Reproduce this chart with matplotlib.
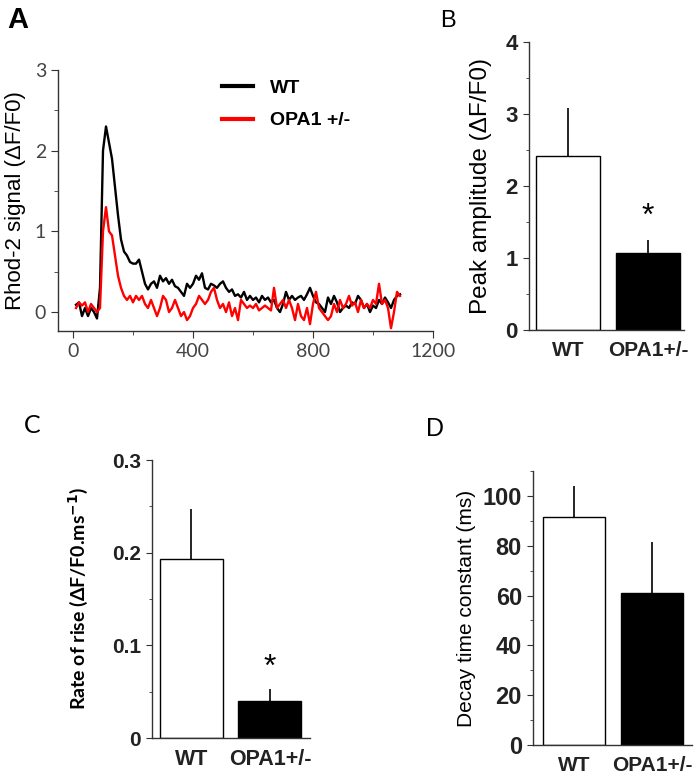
import numpy as np
import matplotlib
matplotlib.use('Agg')
import matplotlib.pyplot as plt
from matplotlib.ticker import MultipleLocator

# ---- data ----
t = list(range(10, 1100, 10))
wt_trace = [0.09, 0.12, -0.05, 0.05, -0.05, 0.05, 0.0, -0.08, 0.3, 2.0,
            2.3, 2.1, 1.9, 1.55, 1.2, 0.9, 0.75, 0.7, 0.62, 0.6,
            0.6, 0.65, 0.5, 0.35, 0.28, 0.35, 0.38, 0.3, 0.45, 0.38,
            0.42, 0.35, 0.4, 0.32, 0.3, 0.25, 0.2, 0.35, 0.3, 0.35,
            0.45, 0.4, 0.48, 0.3, 0.28, 0.35, 0.33, 0.3, 0.35, 0.38,
            0.3, 0.25, 0.28, 0.2, 0.22, 0.18, 0.25, 0.15, 0.2, 0.15,
            0.18, 0.12, 0.2, 0.15, 0.18, 0.12, 0.15, 0.05, 0.0, 0.1,
            0.25, 0.15, 0.2, 0.15, 0.18, 0.2, 0.15, 0.22, 0.3, 0.2,
            0.12, 0.1, 0.05, 0.0, 0.18, 0.1, 0.2, 0.12, 0.0, 0.05,
            0.08, 0.05, 0.12, 0.1, 0.2, 0.15, 0.05, 0.1, 0.0, 0.08,
            0.05, 0.15, 0.1, 0.18, 0.12, 0.05, 0.15, 0.2, 0.22]
opa_trace = [0.05, 0.12, 0.08, 0.12, 0.0, 0.1, 0.05, 0.0, 0.05, 1.0,
             1.3, 1.0, 0.95, 0.7, 0.45, 0.3, 0.2, 0.15, 0.2, 0.12,
             0.2, 0.15, 0.2, 0.1, 0.05, 0.15, 0.05, -0.05, 0.05, 0.2,
             0.15, 0.0, 0.05, 0.15, 0.05, -0.05, 0.0, -0.1, -0.05, 0.05,
             0.1, 0.2, 0.15, 0.1, 0.15, 0.25, 0.3, 0.15, 0.05, 0.1,
             0.0, 0.12, -0.05, 0.05, -0.1, 0.15, 0.1, 0.05, 0.08, 0.05,
             0.1, 0.02, 0.05, 0.08, 0.05, 0.02, 0.3, 0.05, 0.1, 0.15,
             0.05, 0.15, 0.05, -0.1, 0.1, -0.05, -0.1, 0.05, -0.15, 0.1,
             0.25, 0.05, 0.0, -0.05, -0.1, -0.05, 0.1, 0.0, 0.15, 0.05,
             0.1, 0.2, 0.08, 0.12, 0.0, 0.15, 0.05, 0.1, 0.05, 0.15,
             0.1, 0.35, 0.1, 0.15, 0.05, -0.2, 0.0, 0.25, 0.2]

groups = ['WT', 'OPA1+/-']
peak_mean = [2.42, 1.07]
peak_err = [0.66, 0.18]
rise_mean = [0.193, 0.040]
rise_err = [0.054, 0.013]
decay_mean = [91.5, 61.0]
decay_err = [12.5, 20.5]

W, H = 700, 782
fig = plt.figure(figsize=(7, 7.82), dpi=100)

def box(l, r, top, bot):
    return [l / W, 1 - bot / H, (r - l) / W, (bot - top) / H]

spine_col = '#333333'

# ---- A: traces ----
axA = fig.add_axes(box(58, 433, 70, 331))
axA.plot(t, wt_trace, color='black', lw=1.7, label='WT')
axA.plot(t, opa_trace, color='#ff0000', lw=1.7, label='OPA1 +/-')
axA.set_xlim(-50, 1200)
axA.set_ylim(-0.235, 3.0)
axA.set_xticks([0, 400, 800, 1200])
axA.set_yticks([0, 1, 2, 3])
axA.xaxis.set_minor_locator(MultipleLocator(200))
axA.yaxis.set_minor_locator(MultipleLocator(0.5))
for s in ['top', 'right']:
    axA.spines[s].set_visible(False)
for s in ['left', 'bottom']:
    axA.spines[s].set_color(spine_col)
    axA.spines[s].set_linewidth(1.0)
axA.tick_params(which='major', length=5, color=spine_col, labelsize=14,
                labelcolor='#444444')
axA.tick_params(which='minor', length=3, color=spine_col)
for lab in axA.get_xticklabels() + axA.get_yticklabels():
    lab.set_family('Lato')
axA.set_ylabel('Rhod-2 signal (\u0394F/F0)', fontsize=16, family='Liberation Sans',
               labelpad=6)
leg = axA.legend(loc='upper left', bbox_to_anchor=(0.39, 1.03), frameon=False,
                 handlelength=1.6, handletextpad=0.9, labelspacing=0.75,
                 prop={'family': 'Liberation Sans', 'weight': 'bold', 'size': 14})
for ln in leg.get_lines():
    ln.set_linewidth(3)

def bar_panel(ax, means, errs, xlim, ylim, ticks, minor, tick_fmt, lab_size, xlab_size):
    x = np.arange(len(groups))
    ax.bar(x, means, width=0.8, color=['white', 'black'], edgecolor='black',
           linewidth=1.0, zorder=2)
    ax.vlines(x, means, np.array(means) + np.array(errs), color='black',
              lw=1.2, zorder=1)
    ax.set_xlim(*xlim)
    ax.set_ylim(*ylim)
    ax.set_yticks(ticks)
    ax.set_yticklabels([tick_fmt(v) for v in ticks])
    ax.yaxis.set_minor_locator(MultipleLocator(minor))
    ax.set_xticks(x)
    ax.set_xticklabels(groups)
    for s in ['top', 'right']:
        ax.spines[s].set_visible(False)
    for s in ['left', 'bottom']:
        ax.spines[s].set_color(spine_col)
        ax.spines[s].set_linewidth(1.0)
    ax.tick_params(axis='y', which='major', length=4, color=spine_col,
                   labelsize=lab_size, pad=4)
    ax.tick_params(axis='y', which='minor', length=2.5, color=spine_col)
    ax.tick_params(axis='x', length=0, labelsize=xlab_size, pad=8)
    for lab in ax.get_xticklabels() + ax.get_yticklabels():
        lab.set_family('Liberation Sans')
        lab.set_weight('bold')
        lab.set_color('#222222')
    return x

# ---- B: peak amplitude ----
axB = fig.add_axes(box(529, 684, 42, 330))
xb = bar_panel(axB, peak_mean, peak_err, (-0.49, 1.45), (0, 4), [0, 1, 2, 3, 4], 0.5,
               lambda v: '%d' % v, 16, 15)
axB.set_ylabel('Peak amplitude (\u0394F/F0)', fontsize=17.5, family='Liberation Sans',
               labelpad=10)
axB.annotate('*', (xb[1], peak_mean[1] + peak_err[1]), xytext=(0, 6),
             textcoords='offset points', ha='center', va='bottom', fontsize=23,
             family='Liberation Sans')

# ---- C: rate of rise ----
axC = fig.add_axes(box(152, 310, 460, 738))
xc = bar_panel(axC, rise_mean, rise_err, (-0.5, 1.51), (0, 0.3), [0, 0.1, 0.2, 0.3], 0.05,
               lambda v: '0' if v == 0 else '%.1f' % v, 15, 15.5)
axC.set_ylabel('Rate of rise (\u0394F/F0.ms$^{\\mathbf{-1}}$)', fontsize=14,
               family='Lato', weight='bold', labelpad=16)
axC.annotate('*', (xc[1], rise_mean[1] + rise_err[1]), xytext=(0, 4),
             textcoords='offset points', ha='center', va='bottom', fontsize=23,
             family='Liberation Sans')

# ---- D: decay time constant ----
axD = fig.add_axes(box(533, 692, 471, 745))
bar_panel(axD, decay_mean, decay_err, (-0.53, 1.51), (0, 110),
          [0, 20, 40, 60, 80, 100], 10, lambda v: '%d' % v, 17, 15)
axD.set_ylabel('Decay time constant (ms)', fontsize=15, family='Liberation Sans',
               labelpad=5)

# ---- panel letters ----
fig.text(7 / W, 1 - 28 / H, 'A', fontsize=21, weight='bold', family='Liberation Sans')
fig.text(440 / W, 1 - 27 / H, 'B', fontsize=17, family='Liberation Sans')
fig.text(24 / W, 1 - 433 / H, 'C', fontsize=18, family='Lato')
fig.text(426 / W, 1 - 436 / H, 'D', fontsize=18, family='Liberation Sans')

fig.savefig('out.png', dpi=100)
